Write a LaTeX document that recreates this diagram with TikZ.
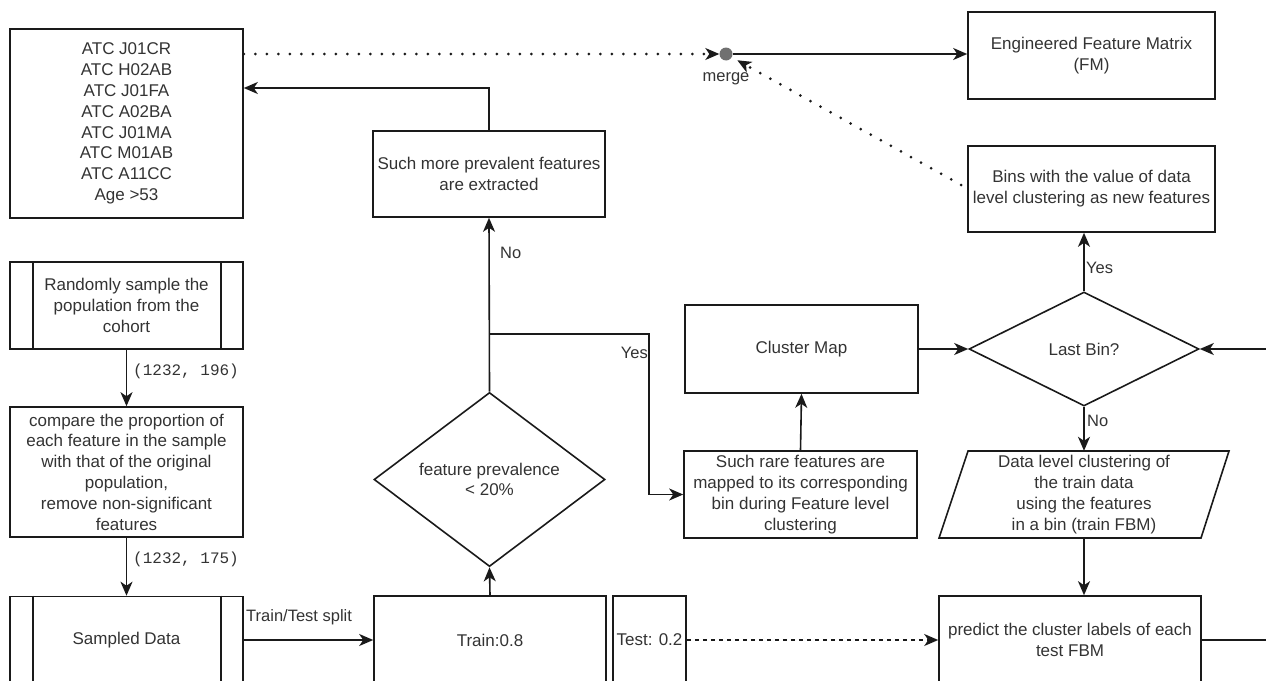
\documentclass[tikz,border=0pt]{standalone}
\usepackage{fontspec}
\setmainfont{Liberation Sans}
\setmonofont{Liberation Mono}
\usetikzlibrary{arrows.meta,shapes.geometric,calc}
\definecolor{txt}{HTML}{333333}
\definecolor{ln}{HTML}{1A1A1A}
\definecolor{mergegray}{HTML}{707070}
\begin{document}
\begin{tikzpicture}[x=1pt,y=-1pt,
  every node/.style={text=txt, font=\fontsize{17}{20.8}\selectfont},
  box/.style={draw=ln, line width=1.6pt, rectangle, inner sep=0pt, align=center},
  dia/.style={draw=ln, line width=1.6pt, diamond, inner sep=0pt, align=center},
  tipa/.style={-{Stealth[length=14pt,width=12pt,inset=4pt]}},
  conn/.style={draw=ln, line width=1.6pt, tipa},
  plain/.style={draw=ln, line width=1.6pt},
  dotline/.style={draw=ln, line width=3pt, line cap=round, dash pattern=on 0pt off 11.5pt},
  dashline/.style={draw=ln, line width=1.4pt, dash pattern=on 4pt off 4pt},
  lbl/.style={inner sep=1pt, font=\fontsize{16.5}{19}\selectfont},
  monolbl/.style={inner sep=1pt, font=\ttfamily\fontsize{16}{19}\selectfont}
]
\useasboundingbox (0,0) rectangle (1266,680);
\clip (0,0) rectangle (1266,680);

% nodes
\node[box, minimum width=233, minimum height=189] (atc) at (126.5,123.5)
  {ATC J01CR\\ATC H02AB\\ATC J01FA\\ATC A02BA\\ATC J01MA\\ATC M01AB\\ATC A11CC\\Age >53};
\node[box, minimum width=247, minimum height=87] (fm) at (1091.5,55.5)
  {Engineered Feature Matrix\\(FM)};
\node[box, minimum width=247, minimum height=86] (bins) at (1091.5,189)
  {Bins with the value of data\\level clustering as new features};
\node[box, minimum width=232, minimum height=86] (prev) at (489,174)
  {Such more prevalent features\\are extracted};
\node[box, minimum width=233, minimum height=87] (rand) at (126.5,305.5)
  {Randomly sample the\\population from the\\cohort};
\node[box, minimum width=233, minimum height=130] (cmp) at (126.5,472)
  {compare the proportion of\\each feature in the sample\\with that of the original\\population,\\remove non-significant\\features};
\node[box, minimum width=233, minimum height=87] (smp) at (126.5,640) {Sampled Data};
\node[box, minimum width=232, minimum height=88] (train) at (490,640) {Train:0.8};
\node[box, minimum width=73, minimum height=88] (test) at (649.5,640) {Test: 0.2};
\node[dia, minimum width=231, minimum height=115] (pd) at (489.5,479.5)
  {feature prevalence\\< 20\%};
\node[box, minimum width=233, minimum height=88] (cmap) at (801.5,349) {Cluster Map};
\node[box, minimum width=233, minimum height=87] (rare) at (800.5,494.5)
  {Such rare features are\\mapped to its corresponding\\bin during Feature level\\clustering};
\node[dia, minimum width=230, minimum height=114] (lb) at (1084,349) {Last Bin?};
\node[inner sep=0pt, minimum width=233, minimum height=87, align=center] (dlc) at (1084,494.5)
  {Data level clustering of\\the train data\\using the features\\in a bin (train FBM)};
\draw[plain] (939,538) -- (968,451) -- (1229,451) -- (1201,538) -- cycle;
\node[box, minimum width=262, minimum height=88] (pred) at (1070,640)
  {predict the cluster labels of each\\test FBM};
\node[circle, fill=mergegray, minimum size=13pt, inner sep=0pt] (merge) at (726,54) {};
\node[lbl] (mergelbl) at (726,79) {merge};

% double side lines of process boxes
\draw[plain] ([xshift=24pt]rand.north west) -- ([xshift=24pt]rand.south west);
\draw[plain] ([xshift=-23pt]rand.north east) -- ([xshift=-23pt]rand.south east);
\draw[plain] ([xshift=24pt]smp.north west) -- ([xshift=24pt]smp.south west);
\draw[plain] ([xshift=-23pt]smp.north east) -- ([xshift=-23pt]smp.south east);

% helper coordinates
\coordinate (c1) at (489,88);
\coordinate (b1) at (489,334);
\coordinate (b2) at (649,334);
\coordinate (re1) at (1266,349);
\coordinate (re2) at (1266,640);
\coordinate (bstart) at ([shift={(-6,-4)}]bins.west);

% connectors
\draw[dotline, shorten >=10pt] (atc.east |- merge) -- (merge.west);
\draw[ln, line width=1.6pt, tipa] ([xshift=-2pt]merge.west) -- (merge.west);
\draw[conn] (merge.east) -- (fm.west |- merge);
\draw[dotline, shorten >=20pt] (bstart) -- (merge);
\path ($(merge)!13pt!(bstart)$) coordinate (mtip)
      ($(merge)!15pt!(bstart)$) coordinate (mtail);
\draw[ln, line width=1.6pt, tipa] (mtail) -- (mtip);

\draw[conn] (pd.north) -- (prev.south);
\node[lbl, anchor=west] at (499,253) {No};
\draw[conn] (prev.north) -- (c1) -- (atc.east |- c1);
\draw[conn] (b1) -- (b2) |- (rare.west);
\node[lbl, anchor=east] at (649,353) {Yes};
\draw[conn] (train.north) -- (pd.south);
\draw[conn] (smp.east) -- (train.west);
\node[lbl, anchor=west] at (245,617) {Train/Test split};
\draw[conn] (rand.south) -- (cmp.north);
\node[monolbl, anchor=west] at (132,371) {(1232, 196)};
\draw[conn] (cmp.south) -- (smp.north);
\node[monolbl, anchor=west] at (132,559) {(1232, 175)};
\draw[conn] (rare.north) -- (cmap.south);
\draw[conn] (cmap.east) -- (lb.west);
\draw[conn] (lb.north) -- (lb.north |- bins.south);
\node[lbl, anchor=west] at (1085,268) {Yes};
\draw[conn] (lb.south) -- (dlc.north);
\node[lbl, anchor=west] at (1086,421) {No};
\draw[conn] (dlc.south) -- (dlc.south |- pred.north);
\draw[plain] (pred.east) -- (re2);
\draw[conn] (re1) -- (lb.east);
\draw[dashline, tipa] (test.east) -- (pred.west);
\end{tikzpicture}
\end{document}
